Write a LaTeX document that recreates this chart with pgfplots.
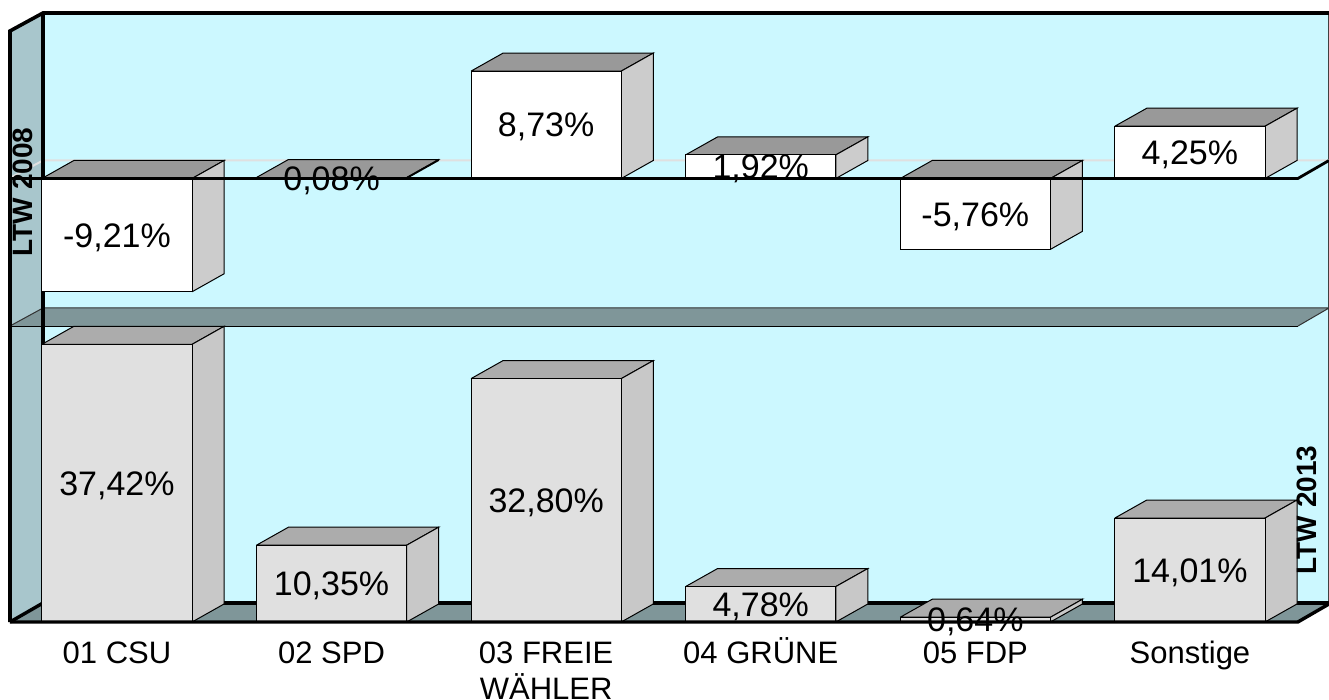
\documentclass[border=0pt]{standalone}
\usepackage{pgfplots}
\pgfplotsset{compat=1.18}
\usepackage{fontspec}
\setmainfont{Liberation Sans}
\definecolor{wallbg}{HTML}{CCF8FF}
\definecolor{wallleft}{HTML}{A8C6CC}
\definecolor{plate}{HTML}{7F9699}
\definecolor{upTop}{HTML}{999999}
\definecolor{upSide}{HTML}{CCCCCC}
\definecolor{loFront}{HTML}{E0E0E0}
\definecolor{loTop}{HTML}{ACACAC}
\definecolor{loSide}{HTML}{C8C8C8}
\pgfplotsset{
  layer/.style={scale only axis,width=1329pt,height=700pt,clip=false},
  barline/.style={draw=black,line width=1pt,line join=miter,mark=none,solid},
}
% one 3D box: #1 category index, #2 value, #3 dy of the depth in value units, #4 front, #5 top, #6 side
\newcommand{\ThreeBar}[6]{%
  \pgfmathsetmacro{\xl}{#1-0.35}\pgfmathsetmacro{\xr}{#1+0.35}%
  \pgfmathsetmacro{\xlb}{#1-0.35+0.149}\pgfmathsetmacro{\xrb}{#1+0.35+0.149}%
  \pgfmathsetmacro{\hi}{max(0,#2)}\pgfmathsetmacro{\lo}{min(0,#2)}%
  \pgfmathsetmacro{\hib}{\hi+#3}\pgfmathsetmacro{\lob}{\lo+#3}%
  \addplot[barline,fill=#5] coordinates {(\xl,\hi)(\xr,\hi)(\xrb,\hib)(\xlb,\hib)(\xl,\hi)};
  \addplot[barline,fill=#6] coordinates {(\xr,\lo)(\xr,\hi)(\xrb,\hib)(\xrb,\lob)(\xr,\lo)};
  \addplot[barline,fill=#4] coordinates {(\xl,\lo)(\xr,\lo)(\xr,\hi)(\xl,\hi)(\xl,\lo)};
}
\newcommand{\Lab}[3]{\node[inner sep=0pt,text height=24.4pt,text depth=0pt,anchor=center,font=\fontsize{34}{36}\selectfont] at (axis cs:#1,#2/2) {#3};}
\newcommand{\TL}[1]{\rule{0pt}{22.2pt}\smash{#1}}
\begin{document}
\begin{tikzpicture}[x=1pt,y=1pt]
\useasboundingbox (0,0) rectangle (1329pt,700pt);
% walls and plates, in picture units
\begin{axis}[layer,at={(0,0)},anchor=south west,hide axis,xmin=0,xmax=1329,ymin=0,ymax=700,y dir=reverse]
  \fill[wallbg] (axis cs:43,13) rectangle (axis cs:1329,603);
  \fill[wallleft] (axis cs:10,31)--(axis cs:43,13)--(axis cs:43,603)--(axis cs:10,622)--cycle;
  \draw[line width=1pt,black!75] (axis cs:1328.5,13)--(axis cs:1328.5,603);
  % floor
  \fill[plate] (axis cs:10,622)--(axis cs:43,603)--(axis cs:1329,603)--(axis cs:1298,622)--cycle;
  \draw[line width=3.6pt,black] (axis cs:43,603)--(axis cs:1329,603);
  % middle plate
  \fill[plate] (axis cs:10,326)--(axis cs:43,308)--(axis cs:1329,308)--(axis cs:1298,326)--cycle;
  \draw[line width=1pt,black!80] (axis cs:10,326)--(axis cs:43,308)--(axis cs:1329,308)--(axis cs:1298,326);
  \draw[line width=1pt,black] (axis cs:10,326.5)--(axis cs:1298,326.5);
  % back line of the upper zero plane
  \draw[line width=2pt,black!12,rounded corners=2pt] (axis cs:10,178)--(axis cs:43,160.5)--(axis cs:1329,160.5);
  % frame
  \draw[line width=3.6pt,black,line join=miter] (axis cs:10,622)--(axis cs:10,31)--(axis cs:43,13)--(axis cs:1329,13);
  \draw[line width=3.4pt,black] (axis cs:43,13)--(axis cs:43,603);
  \draw[line width=3.4pt,black] (axis cs:10,622)--(axis cs:43,603);
\end{axis}
% LTW 2013
\begin{axis}[layer,at={(0,0)},anchor=south west,
  xmin=-0.5452,xmax=5.648,ymin=-10.512,ymax=83.827,
  axis y line=none,axis x line=bottom,x axis line style={draw=none,-},
  xtick={0,1,2,3,4,5},major tick length=0pt,xtick style={draw=none},
  xticklabels={\TL{01 CSU},\TL{02 SPD},{\TL{03 FREIE}\\WÄHLER},\TL{04 GRÜNE},\TL{05 FDP},\TL{Sonstige}},
  xticklabel style={anchor=north,yshift=58.7pt,inner sep=0pt,align=center,font=\fontsize{31}{35.5}\selectfont}]
  \ThreeBar{0}{37.42}{2.426}{loFront}{loTop}{loSide}
  \ThreeBar{1}{10.35}{2.426}{loFront}{loTop}{loSide}
  \ThreeBar{2}{32.80}{2.426}{loFront}{loTop}{loSide}
  \ThreeBar{3}{4.78}{2.426}{loFront}{loTop}{loSide}
  \ThreeBar{4}{0.64}{2.426}{loFront}{loTop}{loSide}
  \ThreeBar{5}{14.01}{2.426}{loFront}{loTop}{loSide}
  \draw[line width=3.4pt,black,line join=miter] (axis cs:-0.4986,0)--(axis cs:5.503,0)--(axis cs:5.648,2.426);
  \Lab{0}{37.42}{37,42\%}
  \Lab{1}{10.35}{10,35\%}
  \Lab{2}{32.80}{32,80\%}
  \Lab{3}{4.78}{4,78\%}
  \Lab{4}{0.64}{0,64\%}
  \Lab{5}{14.01}{14,01\%}
\end{axis}
% LTW 2008
\begin{axis}[layer,at={(0,0)},anchor=south west,hide axis,
  xmin=-0.5452,xmax=5.648,ymin=-42.398,ymax=14.512]
  \ThreeBar{0}{-9.21}{1.463}{white}{upTop}{upSide}
  \ThreeBar{1}{0.08}{1.463}{white}{upTop}{upSide}
  \ThreeBar{2}{8.73}{1.463}{white}{upTop}{upSide}
  \ThreeBar{3}{1.92}{1.463}{white}{upTop}{upSide}
  \ThreeBar{4}{-5.76}{1.463}{white}{upTop}{upSide}
  \ThreeBar{5}{4.25}{1.463}{white}{upTop}{upSide}
  \draw[line width=2.8pt,black,line join=miter] (axis cs:-0.4986,0)--(axis cs:5.503,0)--(axis cs:5.648,1.463);
  \Lab{0}{-9.21}{-9,21\%}
  \Lab{1}{0.08}{0,08\%}
  \Lab{2}{8.73}{8,73\%}
  \Lab{3}{1.92}{1,92\%}
  \Lab{4}{-5.76}{-5,76\%}
  \Lab{5}{4.25}{4,25\%}
  \node[rotate=90,inner sep=0pt,anchor=center,font=\bfseries\fontsize{28}{30}\selectfont] at (axis cs:-0.440,-1.1) {LTW 2008};
  \node[rotate=90,inner sep=0pt,anchor=center,font=\bfseries\fontsize{28}{30}\selectfont] at (axis cs:5.545,-26.95) {LTW 2013};
\end{axis}
\end{tikzpicture}
\end{document}
